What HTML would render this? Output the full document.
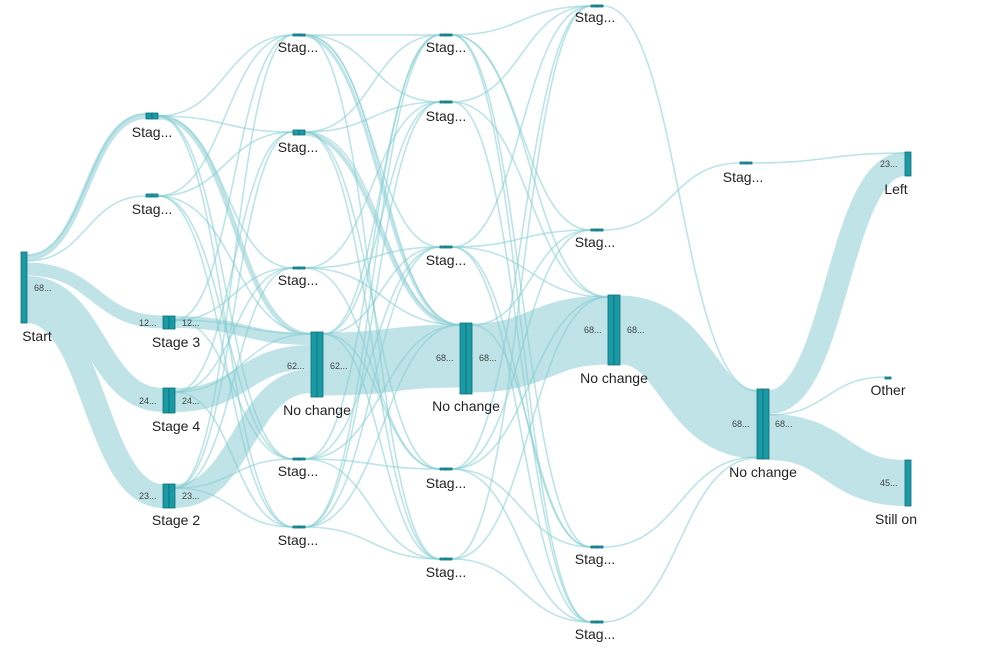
<!DOCTYPE html>
<html><head><meta charset="utf-8"><style>
html,body{margin:0;padding:0;background:#fff;}
svg{display:block;font-family:"Liberation Sans",sans-serif;}
.l{font-size:14px;fill:#222;text-anchor:middle;}
.v{font-size:9px;fill:#444;}
.b{fill:#1a9aa5;stroke:#0f6f78;stroke-width:0.8;}
</style></head><body>
<svg id="s" width="998" height="652" viewBox="0 0 998 652">
<g id="thick" fill="none" stroke="#bfe3e7"></g>
<g id="thin" fill="none" stroke="#84cdd3" stroke-opacity="0.55" stroke-width="1.6"></g>
<g id="bars"></g>
<g>
<text class="l" x="37" y="341">Start</text>
<text class="v" x="34" y="291">68...</text>
<text class="l" x="152" y="137">Stag...</text>
<text class="l" x="152" y="214">Stag...</text>
<text class="l" x="176" y="347">Stage 3</text>
<text class="v" x="139" y="326">12...</text><text class="v" x="182" y="326">12...</text>
<text class="l" x="176" y="431">Stage 4</text>
<text class="v" x="139" y="404">24...</text><text class="v" x="182" y="404">24...</text>
<text class="l" x="176" y="525">Stage 2</text>
<text class="v" x="139" y="499">23...</text><text class="v" x="182" y="499">23...</text>
<text class="l" x="298" y="52">Stag...</text>
<text class="l" x="298" y="152">Stag...</text>
<text class="l" x="298" y="285">Stag...</text>
<text class="l" x="317" y="415">No change</text>
<text class="v" x="287" y="369">62...</text><text class="v" x="330" y="369">62...</text>
<text class="l" x="298" y="476">Stag...</text>
<text class="l" x="298" y="545">Stag...</text>
<text class="l" x="446" y="52">Stag...</text>
<text class="l" x="446" y="121">Stag...</text>
<text class="l" x="446" y="265">Stag...</text>
<text class="l" x="466" y="411">No change</text>
<text class="v" x="436" y="361">68...</text><text class="v" x="479" y="361">68...</text>
<text class="l" x="446" y="488">Stag...</text>
<text class="l" x="446" y="577">Stag...</text>
<text class="l" x="595" y="22">Stag...</text>
<text class="l" x="595" y="247">Stag...</text>
<text class="l" x="614" y="383">No change</text>
<text class="v" x="584" y="333">68...</text><text class="v" x="627" y="333">68...</text>
<text class="l" x="595" y="564">Stag...</text>
<text class="l" x="595" y="639">Stag...</text>
<text class="l" x="743" y="182">Stag...</text>
<text class="l" x="763" y="477">No change</text>
<text class="v" x="732" y="427">68...</text><text class="v" x="775" y="427">68...</text>
<text class="l" x="896" y="194">Left</text>
<text class="v" x="880" y="167">23...</text>
<text class="l" x="888" y="395">Other</text>
<text class="l" x="896" y="524">Still on</text>
<text class="v" x="880" y="486">45...</text>
</g>
</svg>
<script>
var NS="http://www.w3.org/2000/svg";
function p(g,x1,y1,x2,y2,w){var e=document.createElementNS(NS,"path");var m=(x1+x2)/2;
e.setAttribute("d","M"+x1+","+y1+" C"+m+","+y1+" "+m+","+y2+" "+x2+","+y2);
if(w)e.setAttribute("stroke-width",w);document.getElementById(g).appendChild(e);}
function bar(x,y,h,dbl){var g=document.getElementById("bars");
function r(xx,ww){var e=document.createElementNS(NS,"rect");e.setAttribute("x",xx);e.setAttribute("y",y);e.setAttribute("width",ww);e.setAttribute("height",h);e.setAttribute("class","b");g.appendChild(e);}
if(dbl){r(x,6);r(x+6,6);}else r(x,6);}
p("thick",27,258,146,116,6);
p("thick",27,269,163,322,13);
p("thick",27,288,163,400,24);
p("thick",27,311,163,496,24);
p("thick",175,322,311,339,12);
p("thick",175,400,311,357,24);
p("thick",175,496,311,381,24);
p("thick",158,117,311,335,5);
p("thick",323,364,460,356,63);
p("thick",472,358,608,330,69);
p("thick",620,330,757,424,69);
p("thick",769,402,905,164,24);
p("thick",769,437,905,483,46);
p("thick",300,133,460,326,4);
p("thick",300,35,460,325,3);
var c1=[[158,116],[158,196],[175,320],[175,392],[175,488]];
var c2=[[293,35],[293,132],[293,268],[311,334],[293,459],[293,527]];
var c2o=[[305,35],[305,132],[305,268],[323,334],[305,459],[305,527]];
var c3=[[440,35],[440,102],[440,247],[460,325],[440,469],[440,559]];
var c3o=[[452,35],[452,102],[452,247],[472,325],[452,469],[452,559]];
var c4=[[591,6],[591,230],[608,297],[591,547],[591,622]];
var i,j;
for(i=0;i<c1.length;i++)for(j=0;j<c2.length;j++){if((i+j)%4==3)continue;p("thin",c1[i][0],c1[i][1],c2[j][0],c2[j][1]);}
for(i=0;i<c2o.length;i++)for(j=0;j<c3.length;j++){if((i*2+j)%5==4)continue;p("thin",c2o[i][0],c2o[i][1],c3[j][0],c3[j][1]);}
for(i=0;i<c3o.length;i++)for(j=0;j<c4.length;j++){if((i+j*2)%4==3)continue;p("thin",c3o[i][0],c3o[i][1],c4[j][0],c4[j][1]);}
p("thin",27,255,146,114);p("thin",27,261,146,196);
p("thin",603,6,757,391);p("thin",603,230,740,163);p("thin",603,547,757,457);p("thin",603,622,757,458);
p("thin",752,163,905,153);p("thin",769,415,885,377);
bar(21,252,71,false);
bar(146,113,6,true);bar(146,194,3,true);bar(163,316,13,true);bar(163,388,25,true);bar(163,484,24,true);
bar(293,34,2,true);bar(293,130,5,true);bar(293,267,2,true);bar(311,332,65,true);bar(293,458,2,true);bar(293,526,2,true);
bar(440,34,2,true);bar(440,101,2,true);bar(440,246,2,true);bar(460,323,71,true);bar(440,468,2,true);bar(440,558,2,true);
bar(591,5,2,true);bar(591,229,2,true);bar(608,295,70,true);bar(591,546,2,true);bar(591,621,2,true);
bar(740,162,2,true);bar(757,389,70,true);
bar(905,152,24,false);bar(885,377,2,false);bar(905,460,46,false);
</script>
</body></html>
